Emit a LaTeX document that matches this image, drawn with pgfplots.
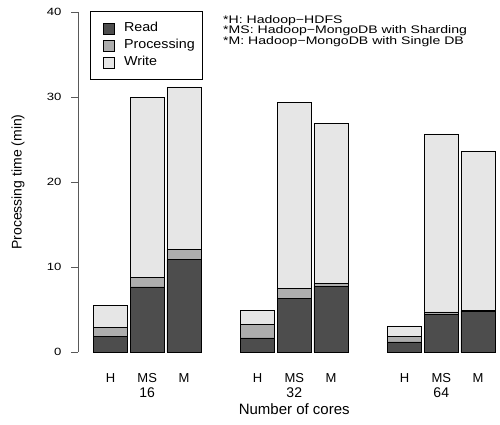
\documentclass[border=0pt]{standalone}
\usepackage{pgfplots}
\pgfplotsset{compat=1.18}
\usepackage{fontspec}
\setmainfont{Liberation Sans}
\newfontfamily\widefont[FakeStretch=1.28]{Liberation Sans}
\newfontfamily\wideA[FakeStretch=1.1]{Liberation Sans}
\newfontfamily\wideT[FakeStretch=1.25]{Liberation Sans}
\definecolor{cRead}{HTML}{4D4D4D}
\definecolor{cProc}{HTML}{ADADAD}
\definecolor{cWrite}{HTML}{E6E6E6}
\begin{document}
\begin{tikzpicture}[x=1pt,y=1pt]
\useasboundingbox (0,0) rectangle (500,424);
\begin{axis}[
  at={(78pt,72pt)}, anchor=south west, scale only axis,
  width=418.4pt, height=340pt,
  xmin=-0.884, xmax=10.5, ymin=0, ymax=40,
  ybar stacked, bar width=0.93,
  axis y line=left, axis x line=none,
  y axis line style={-, draw=black!65, line width=0.8pt},
  ytick={0,10,20,30,40},
  ytick style={draw=black!65, line width=0.8pt},
  tick align=outside, major tick length=7pt,
  yticklabel style={font=\wideT\fontsize{10.5}{13}\selectfont, xshift=-6pt},
  /pgf/number format/assume math mode=true,
  clip=false,
  every axis plot/.append style={draw=black, line width=0.6pt},
  legend cell align=left,
  legend style={at={(0.0287,1.003)}, anchor=north west, draw=black, line width=0.8pt,
    fill=white, font=\wideA\fontsize{13}{15}\selectfont, inner xsep=5.15pt, inner ysep=8.5pt,
    row sep=0pt,
    nodes={text height=9.5pt, text depth=3pt, inner sep=2.25pt}},
  legend image code/.code={\path (0pt,0pt) (25.6pt,0pt); \draw[#1, draw=black, line width=0.6pt] (7.85pt,-5.5pt) rectangle (18.85pt,5.5pt);},
]
\addplot[fill=cRead] coordinates {(0,1.81) (1,7.65) (2,10.87) (4,1.65) (5,6.35) (6,7.73) (8,1.18) (9,4.40) (10,4.82)};
\addplot[fill=cProc] coordinates {(0,1.13) (1,1.17) (2,1.18) (4,1.61) (5,1.11) (6,0.35) (8,0.63) (9,0.31) (10,0.12)};
\addplot[fill=cWrite] coordinates {(0,2.55) (1,21.10) (2,19.13) (4,1.61) (5,21.92) (6,18.86) (8,1.25) (9,20.94) (10,18.71)};
\legend{Read,Processing,Write}
\node[font=\fontsize{13}{15}\selectfont] at (axis cs:0,0) [yshift=-26pt] {H};
\node[font=\fontsize{13}{15}\selectfont] at (axis cs:1,0) [yshift=-26pt] {MS};
\node[font=\fontsize{13}{15}\selectfont] at (axis cs:2,0) [yshift=-26pt] {M};
\node[font=\fontsize{13}{15}\selectfont] at (axis cs:4,0) [yshift=-26pt] {H};
\node[font=\fontsize{13}{15}\selectfont] at (axis cs:5,0) [yshift=-26pt] {MS};
\node[font=\fontsize{13}{15}\selectfont] at (axis cs:6,0) [yshift=-26pt] {M};
\node[font=\fontsize{13}{15}\selectfont] at (axis cs:8,0) [yshift=-26pt] {H};
\node[font=\fontsize{13}{15}\selectfont] at (axis cs:9,0) [yshift=-26pt] {MS};
\node[font=\fontsize{13}{15}\selectfont] at (axis cs:10,0) [yshift=-26pt] {M};
\node[font=\fontsize{14}{16}\selectfont] at (axis cs:1,0) [yshift=-41pt] {16};
\node[font=\fontsize{14}{16}\selectfont] at (axis cs:5,0) [yshift=-41pt] {32};
\node[font=\fontsize{14}{16}\selectfont] at (axis cs:9,0) [yshift=-41pt] {64};
\node[font=\fontsize{15}{17}\selectfont] at (axis cs:5,0) [yshift=-57pt] {Number of cores};
\end{axis}
\node[rotate=90, font=\fontsize{14}{16}\selectfont] at (18,242) {Processing time (min)};
\node[anchor=base west, inner sep=0pt, font=\widefont\fontsize{11}{12}\selectfont] at (223,400.8) {*H: Hadoop−HDFS};
\node[anchor=base west, inner sep=0pt, font=\widefont\fontsize{11}{12}\selectfont] at (223,390.3) {*MS: Hadoop−MongoDB with Sharding};
\node[anchor=base west, inner sep=0pt, font=\widefont\fontsize{11}{12}\selectfont] at (223,379.8) {*M: Hadoop−MongoDB with Single DB};
\end{tikzpicture}
\end{document}
